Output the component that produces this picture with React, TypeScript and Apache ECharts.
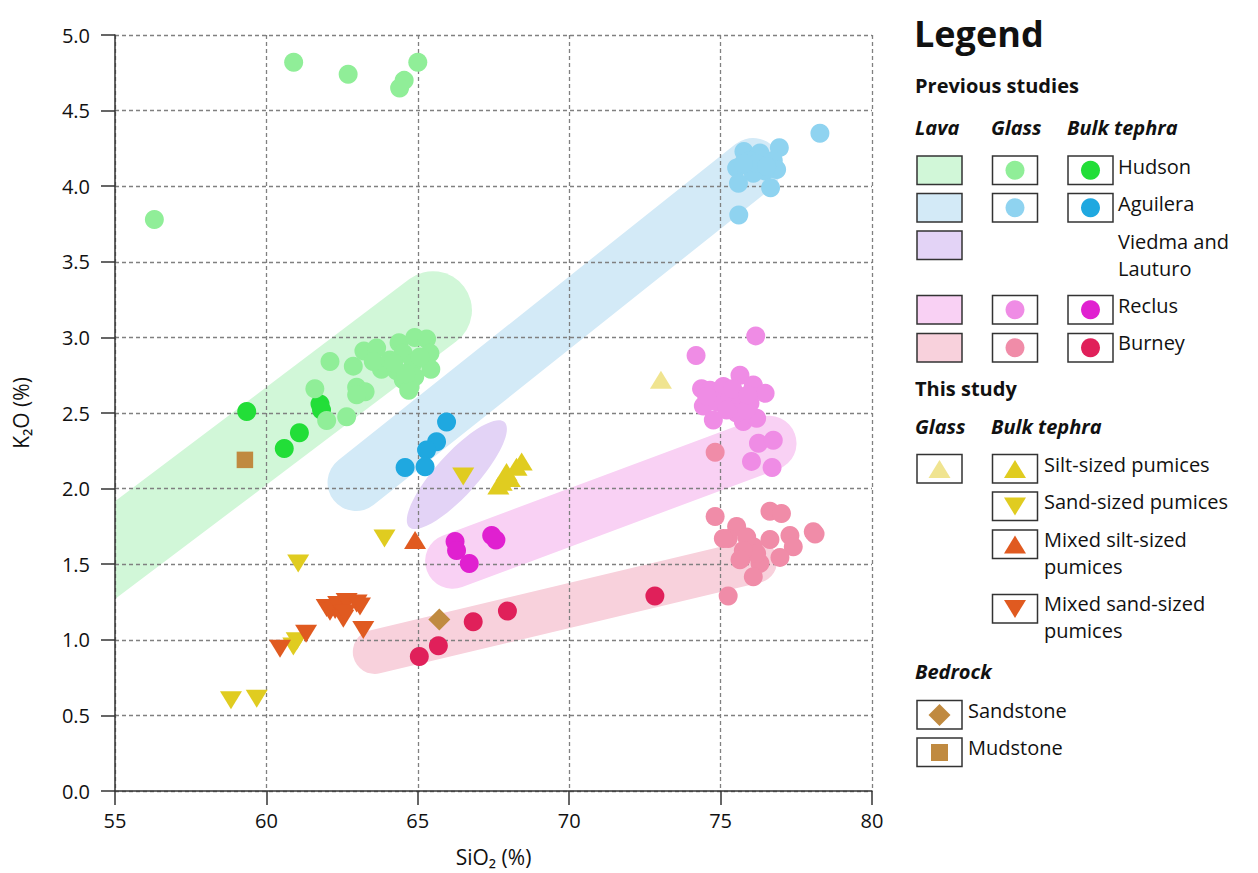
import React, { useEffect, useRef } from "react";
import * as echarts from "echarts";

// ---------- tick labels ----------
const xTickLabels = ["55", "60", "65", "70", "75", "80"];
const yTickLabels = ["0.0", "0.5", "1.0", "1.5", "2.0", "2.5", "3.0", "3.5", "4.0", "4.5", "5.0"];

// ---------- lava fields (centreline end points, SiO2 / K2O) ----------
const hudsonLava = [[53.0, 1.29, 65.5, 3.18]];
const aguileraLava = [[62.96, 2.04, 76.07, 4.13]];
const viedmaLava = [[64.72, 1.745, 67.86, 2.44]];
const reclusLava = [[66.15, 1.52, 76.6, 2.3]];
const burneyLava = [[63.58, 0.92, 76.14, 1.52]];

// ---------- previous studies: glass ----------
const hudsonGlass = [
  [56.3, 3.78], [60.9, 4.82], [62.7, 4.74], [64.55, 4.7], [64.4, 4.65], [65.0, 4.82],
  [62.1, 2.84], [62.87, 2.81], [61.6, 2.66], [63.22, 2.91], [63.64, 2.93], [64.38, 2.965],
  [64.9, 3.0], [65.29, 2.99], [65.4, 2.895], [65.43, 2.79], [63.8, 2.79], [63.53, 2.84],
  [64.08, 2.85], [64.52, 2.895], [64.85, 2.83], [64.52, 2.72], [64.74, 2.67], [64.9, 2.74],
  [62.98, 2.67], [63.26, 2.64], [62.98, 2.62], [62.65, 2.475], [61.99, 2.45], [65.07, 2.87],
  [64.3, 2.78], [64.7, 2.65], [64.6, 2.76], [64.2, 2.83],
];
const aguileraGlass = [
  [78.28, 4.35], [76.94, 4.255], [75.77, 4.23], [76.3, 4.22], [75.53, 4.12], [75.97, 4.17],
  [76.74, 4.17], [76.85, 4.11], [76.47, 4.1], [76.08, 4.085], [75.59, 4.02], [76.65, 3.99],
  [75.6, 3.81], [76.19, 4.15], [75.75, 4.15], [76.52, 4.13],
];
const reclusGlass = [
  [76.16, 3.01], [74.19, 2.88], [75.64, 2.75], [74.37, 2.66], [74.65, 2.65], [75.09, 2.675],
  [76.08, 2.685], [76.47, 2.63], [74.43, 2.546], [74.87, 2.575], [75.31, 2.597], [75.64, 2.607],
  [75.97, 2.564], [74.76, 2.454], [75.75, 2.443], [76.19, 2.465], [75.53, 2.5], [75.2, 2.52],
  [76.25, 2.3], [76.74, 2.32], [76.02, 2.18], [76.7, 2.14], [75.86, 2.52], [74.54, 2.61],
  [75.4, 2.66], [75.9, 2.62],
];
const burneyGlass = [
  [74.82, 2.24], [74.82, 1.815], [76.63, 1.85], [77.01, 1.835], [78.06, 1.715], [78.12, 1.7],
  [75.53, 1.75], [75.25, 1.67], [75.86, 1.68], [76.63, 1.663], [77.29, 1.69], [77.4, 1.615],
  [76.08, 1.615], [75.69, 1.54], [76.3, 1.506], [76.96, 1.545], [76.08, 1.417], [75.25, 1.29],
  [76.19, 1.57], [75.75, 1.59], [75.09, 1.67], [75.64, 1.53],
];

// ---------- previous studies: bulk tephra ----------
const hudsonBulk = [[59.35, 2.51], [61.09, 2.37], [60.59, 2.265], [61.77, 2.56], [61.82, 2.52]];
const aguileraBulk = [[65.95, 2.44], [65.62, 2.31], [65.29, 2.255], [65.24, 2.145], [64.58, 2.14]];
const reclusBulk = [[66.23, 1.65], [66.28, 1.59], [66.7, 1.505], [67.44, 1.69], [67.58, 1.66]];
const burneyBulk = [[65.05, 0.89], [65.68, 0.96], [66.83, 1.12], [67.96, 1.19], [72.83, 1.29]];

// ---------- this study ----------
const studyGlass = [[73.03, 2.72]];
const siltPumices = [[67.66, 2.02], [67.77, 2.045], [68.04, 2.07], [67.93, 2.11], [68.26, 2.145], [68.43, 2.18]];
const sandPumices = [[66.5, 2.08], [63.9, 1.67], [61.05, 1.505], [58.83, 0.6], [59.68, 0.61], [60.89, 0.955], [61.0, 0.99]];
const mixedSiltPumices = [[64.91, 1.66]];
const mixedSandPumices = [
  [60.45, 0.94], [61.31, 1.04], [61.99, 1.21], [62.1, 1.185], [62.27, 1.197], [62.37, 1.23],
  [62.54, 1.14], [62.65, 1.25], [62.98, 1.24], [63.09, 1.22], [63.2, 1.065], [62.6, 1.175],
];

// ---------- bedrock ----------
const sandstone = [[65.71, 1.135]];
const mudstone = [[59.29, 2.19]];

const FONT = '"Open Sans", "Noto Sans", sans-serif';

const C = {
  hudsonLava: "#d1f7d8",
  aguileraLava: "#d3eaf7",
  viedmaLava: "#e3d3f6",
  reclusLava: "#f9d1f4",
  burneyLava: "#f8d1dc",
  hudsonGlass: "#90ee98",
  hudsonBulk: "#22de38",
  aguileraGlass: "#8fd3f0",
  aguileraBulk: "#1fa8e0",
  reclusGlass: "#ef8ce5",
  reclusBulk: "#e020d0",
  burneyGlass: "#f08ca8",
  burneyBulk: "#e0205a",
  studyGlass: "#f0e490",
  pumice: "#e0cc20",
  mixed: "#e05a20",
  bedrock: "#c08a40",
};

function bandSeries(data: number[][], color: string, width: number) {
  return {
    type: "custom",
    z: -1,
    silent: true,
    data,
    renderItem: (params: any, api: any) => {
      const p1 = api.coord([api.value(0), api.value(1)]);
      const p2 = api.coord([api.value(2), api.value(3)]);
      const cs = params.coordSys;
      return {
        type: "group",
        clipPath: { type: "rect", shape: { x: cs.x, y: cs.y, width: cs.width, height: cs.height } },
        children: [
          {
            type: "line",
            shape: { x1: p1[0], y1: p1[1], x2: p2[0], y2: p2[1] },
            style: { stroke: color, lineWidth: width, lineCap: "round" },
          },
        ],
      };
    },
  };
}

function ellipseSeries(data: number[][], color: string, semiMinor: number) {
  return {
    type: "custom",
    z: -1,
    silent: true,
    data,
    renderItem: (params: any, api: any) => {
      const p1 = api.coord([api.value(0), api.value(1)]);
      const p2 = api.coord([api.value(2), api.value(3)]);
      const cx = (p1[0] + p2[0]) / 2;
      const cy = (p1[1] + p2[1]) / 2;
      const a = Math.hypot(p2[0] - p1[0], p2[1] - p1[1]) / 2;
      const ang = Math.atan2(p1[1] - p2[1], p2[0] - p1[0]);
      return {
        type: "ellipse",
        x: cx,
        y: cy,
        rotation: ang,
        shape: { cx: 0, cy: 0, rx: a, ry: semiMinor },
        style: { fill: color },
      };
    },
  };
}

function scatter(name: string, data: number[][], color: string, symbol: string, size: any, rotate = 0) {
  return {
    type: "scatter",
    name,
    data,
    symbol,
    symbolSize: size,
    symbolRotate: rotate,
    itemStyle: { color, opacity: 1 },
    z: 3,
  };
}

// ---------- legend drawing ----------
function legendGraphics() {
  const els: any[] = [];
  const txt = (text: string, x: number, y: number, size: number, weight = "normal", style = "normal") =>
    els.push({
      type: "text",
      x,
      y,
      style: {
        text,
        fill: "#111",
        fontSize: size,
        fontWeight: weight,
        fontStyle: style,
        fontFamily: FONT,
        align: "left",
        verticalAlign: "middle",
      },
    });
  const box = (x: number, y: number, fill = "#fff") =>
    els.push({
      type: "rect",
      shape: { x, y, width: 45, height: 28.5 },
      style: { fill, stroke: "#333", lineWidth: 1.5 },
    });
  const dot = (x: number, y: number, color: string) =>
    els.push({ type: "circle", shape: { cx: x + 22.5, cy: y + 14.25, r: 9.5 }, style: { fill: color } });
  const tri = (x: number, y: number, color: string, down = false) => {
    const cx = x + 22.5;
    const cy = y + 14.5;
    const h = 9;
    const pts = down
      ? [[cx - 11, cy - h], [cx + 11, cy - h], [cx, cy + h]]
      : [[cx - 11, cy + h], [cx + 11, cy + h], [cx, cy - h]];
    els.push({ type: "polygon", shape: { points: pts }, style: { fill: color } });
  };

  txt("Legend", 914, 33, 36, "bold");
  txt("Previous studies", 915, 85, 20, "bold");
  txt("Lava", 915, 127, 20, "bold", "italic");
  txt("Glass", 991, 127, 20, "bold", "italic");
  txt("Bulk tephra", 1067, 127, 20, "bold", "italic");

  const rows = [
    { top: 156, lava: C.hudsonLava, glass: C.hudsonGlass, bulk: C.hudsonBulk, labels: [["Hudson", 166]] },
    { top: 193.5, lava: C.aguileraLava, glass: C.aguileraGlass, bulk: C.aguileraBulk, labels: [["Aguilera", 203.5]] },
    { top: 231, lava: C.viedmaLava, labels: [["Viedma and", 241], ["Lauturo", 268]] },
    { top: 295.5, lava: C.reclusLava, glass: C.reclusGlass, bulk: C.reclusBulk, labels: [["Reclus", 305]] },
    { top: 333.5, lava: C.burneyLava, glass: C.burneyGlass, bulk: C.burneyBulk, labels: [["Burney", 342]] },
  ];
  rows.forEach((r: any) => {
    box(917, r.top, r.lava);
    if (r.glass) {
      box(992.5, r.top);
      dot(992.5, r.top, r.glass);
    }
    if (r.bulk) {
      box(1068, r.top);
      dot(1068, r.top, r.bulk);
    }
    r.labels.forEach((l: any) => txt(l[0], 1118, l[1], 20));
  });

  txt("This study", 915, 388, 20, "bold");
  txt("Glass", 915, 426, 20, "bold", "italic");
  txt("Bulk tephra", 991, 426, 20, "bold", "italic");
  box(917, 454.5);
  tri(917, 454.5, C.studyGlass);

  box(992.5, 454.5);
  tri(992.5, 454.5, C.pumice);
  txt("Silt-sized pumices", 1044, 464.5, 20);
  box(992.5, 492);
  tri(992.5, 492, C.pumice, true);
  txt("Sand-sized pumices", 1044, 501.5, 20);
  box(992.5, 530);
  tri(992.5, 530, C.mixed);
  txt("Mixed silt-sized", 1044, 539.5, 20);
  txt("pumices", 1044, 566.5, 20);
  box(992.5, 594.5);
  tri(992.5, 594.5, C.mixed, true);
  txt("Mixed sand-sized", 1044, 603.5, 20);
  txt("pumices", 1044, 630.5, 20);

  txt("Bedrock", 915, 671.5, 20, "bold", "italic");
  box(917, 700.5);
  els.push({
    type: "polygon",
    shape: { points: [[939.5, 704], [950.5, 715], [939.5, 726], [928.5, 715]] },
    style: { fill: C.bedrock },
  });
  txt("Sandstone", 968, 710, 20);
  box(917, 738);
  els.push({ type: "rect", shape: { x: 931, y: 744, width: 17, height: 17 }, style: { fill: C.bedrock } });
  txt("Mudstone", 968, 747.5, 20);
  return els;
}

export default function App() {
  const ref = useRef<HTMLDivElement>(null);
  useEffect(() => {
    if (!ref.current) return;
    const chart = echarts.init(ref.current, undefined, { renderer: "svg" });
    const circle = 19;
    const triSize = [22, 18];
    chart.setOption({
      animation: false,
      backgroundColor: "#fff",
      grid: { left: 115, top: 35, width: 757, height: 756, containLabel: false },
      xAxis: {
        type: "value",
        min: 55,
        max: 80,
        interval: 5,
        name: "SiO₂ (%)",
        nameLocation: "middle",
        nameGap: 55,
        nameTextStyle: { fontSize: 21, fontFamily: FONT, color: "#111" },
        axisLine: { show: true, lineStyle: { color: "#333", width: 1.5 } },
        axisTick: { show: true, inside: false, length: 14, lineStyle: { color: "#333", width: 1.5 } },
        axisLabel: {
          fontSize: 20,
          fontFamily: FONT,
          color: "#111",
          margin: 19,
          formatter: (v: number) => xTickLabels[Math.round((v - 55) / 5)] ?? String(v),
        },
        splitLine: { show: true, lineStyle: { color: "#808080", type: [4, 3], width: 1.3 } },
      },
      yAxis: {
        type: "value",
        min: 0,
        max: 5,
        interval: 0.5,
        name: "K₂O (%)",
        nameLocation: "middle",
        nameRotate: 90,
        nameGap: 84,
        nameTextStyle: { fontSize: 21, fontFamily: FONT, color: "#111" },
        axisLine: { show: true, lineStyle: { color: "#333", width: 1.5 } },
        axisTick: { show: true, inside: false, length: 14, lineStyle: { color: "#333", width: 1.5 } },
        axisLabel: {
          fontSize: 20,
          fontFamily: FONT,
          color: "#111",
          margin: 25,
          formatter: (v: number) => yTickLabels[Math.round(v / 0.5)] ?? String(v),
        },
        splitLine: { show: true, lineStyle: { color: "#808080", type: [4, 3], width: 1.3 } },
      },
      series: [
        bandSeries(hudsonLava, C.hudsonLava, 78),
        bandSeries(aguileraLava, C.aguileraLava, 57),
        ellipseSeries(viedmaLava, C.viedmaLava, 21),
        bandSeries(reclusLava, C.reclusLava, 55),
        bandSeries(burneyLava, C.burneyLava, 44),
        scatter("Burney glass", burneyGlass, C.burneyGlass, "circle", circle),
        scatter("Reclus glass", reclusGlass, C.reclusGlass, "circle", circle),
        scatter("Aguilera glass", aguileraGlass, C.aguileraGlass, "circle", circle),
        scatter("Hudson bulk tephra", hudsonBulk, C.hudsonBulk, "circle", circle),
        scatter("Hudson glass", hudsonGlass, C.hudsonGlass, "circle", circle),
        scatter("Aguilera bulk tephra", aguileraBulk, C.aguileraBulk, "circle", circle),
        scatter("Reclus bulk tephra", reclusBulk, C.reclusBulk, "circle", circle),
        scatter("Burney bulk tephra", burneyBulk, C.burneyBulk, "circle", circle),
        scatter("This study glass", studyGlass, C.studyGlass, "triangle", triSize),
        scatter("Silt-sized pumices", siltPumices, C.pumice, "triangle", triSize),
        scatter("Sand-sized pumices", sandPumices, C.pumice, "triangle", triSize, 180),
        scatter("Mixed silt-sized pumices", mixedSiltPumices, C.mixed, "triangle", triSize),
        scatter("Mixed sand-sized pumices", mixedSandPumices, C.mixed, "triangle", triSize, 180),
        scatter("Sandstone", sandstone, C.bedrock, "diamond", 22),
        scatter("Mudstone", mudstone, C.bedrock, "rect", 16.5),
      ],
      graphic: { elements: legendGraphics() },
    });
    return () => chart.dispose();
  }, []);
  return (
    <div
      ref={ref}
      style={{ position: "fixed", left: 0, top: 0, width: 1258, height: 873, background: "#fff" }}
    />
  );
}
